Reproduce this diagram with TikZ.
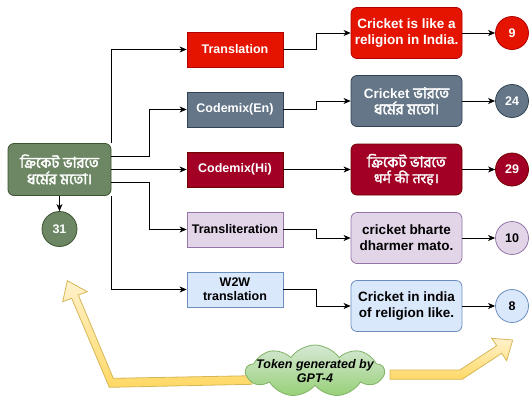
\documentclass[tikz,border=0pt]{standalone}
\usepackage{fontspec}
\setmainfont{Liberation Sans}
\newfontfamily\bnfont[Script=Bengali,AutoFakeBold=2.4]{Hind Siliguri}
\newfontfamily\hifont[Script=Devanagari,AutoFakeBold=1.8]{Noto Sans}
\usetikzlibrary{shapes.symbols,arrows.meta}
\definecolor{srcfill}{HTML}{6D8764}\definecolor{srcline}{HTML}{3A5431}
\definecolor{trfill}{HTML}{E51400}\definecolor{trline}{HTML}{B20000}
\definecolor{cefill}{HTML}{647687}\definecolor{celine}{HTML}{314354}
\definecolor{chfill}{HTML}{A20025}\definecolor{chline}{HTML}{6F0000}
\definecolor{tlfill}{HTML}{E1D5E7}\definecolor{tlline}{HTML}{9673A6}
\definecolor{wwfill}{HTML}{DAE8FC}\definecolor{wwline}{HTML}{6C8EBF}
\definecolor{yelA}{HTML}{FFF2CC}\definecolor{yelB}{HTML}{FFD966}\definecolor{yelline}{HTML}{D6B656}
\definecolor{grnA}{HTML}{D5E8D4}\definecolor{grnB}{HTML}{97D077}\definecolor{grnline}{HTML}{82B366}
\tikzset{
  base/.style={align=center,inner sep=1pt,line width=0.8pt,font=\bfseries\fontsize{12.5}{14}\selectfont},
  midbox/.style={base,rectangle,minimum width=96pt,minimum height=35pt},
  resbox/.style={base,rectangle,rounded corners=6pt,minimum width=111pt,minimum height=51pt,font=\bfseries\fontsize{13.5}{16}\selectfont},
  numc/.style={base,circle,minimum size=33pt},
  conn/.style={line width=0.8pt,draw=black,-{Stealth[length=7pt,width=6pt,inset=2pt]}},
  red/.style={fill=trfill,draw=trline,text=white},
  slate/.style={fill=cefill,draw=celine,text=white},
  wine/.style={fill=chfill,draw=chline,text=white},
  lilac/.style={fill=tlfill,draw=tlline,text=black},
  sky/.style={fill=wwfill,draw=wwline,text=black},
  moss/.style={fill=srcfill,draw=srcline,text=white},
  bigarrow/.style={draw=yelline,line width=0.8pt,top color=yelA,bottom color=yelB,line join=miter},
}
\begin{document}
\begin{tikzpicture}[x=1pt,y=-1pt]
\useasboundingbox (0,0) rectangle (529,397);
% source
\node[base,moss,rectangle,rounded corners=6pt,minimum width=103pt,minimum height=52pt,font=\bfseries\fontsize{15}{16.5}\selectfont] (src) at (59.5,169.5) {\bnfont ক্রিকেট ভারতে\\\bnfont ধর্মের মতো।};
\node[numc,moss,minimum size=35pt] (c31) at (59.5,229) {31};
% middle boxes
\node[midbox,red]   (tr)  at (235,49.5)  {Translation};
\node[midbox,slate] (cen) at (235,109.5) {Codemix(En)};
\node[midbox,wine]  (chi) at (235,169.5) {Codemix(Hi)};
\node[midbox,lilac] (tl)  at (235,229.5) {Transliteration};
\node[midbox,sky]   (ww)  at (235,289.5) {W2W\\translation};
% result boxes
\node[resbox,red]   (rtr)  at (406.5,33)  {Cricket is like a\\religion in India.};
\node[resbox,slate] (rcen) at (406.5,101) {Cricket {\bnfont\fontsize{15}{16.5}\selectfont ভারতে}\\\bnfont\fontsize{15}{16.5}\selectfont ধর্মের মতো।};
\node[resbox,wine]  (rchi) at (406.5,169.5) {\bnfont\fontsize{15}{16.5}\selectfont ক্রিকেট ভারতে\\\hifont\fontsize{14}{16}\selectfont धर्म की तरह।};
\node[resbox,lilac] (rtl)  at (406.5,238) {cricket bharte\\dharmer mato.};
\node[resbox,sky]   (rww)  at (406.5,306) {Cricket in india\\of religion like.};
% circles
\node[numc,red]   (ntr)  at (512,33)    {9};
\node[numc,slate] (ncen) at (512,101)   {24};
\node[numc,wine]  (nchi) at (512,169.5) {29};
\node[numc,lilac] (ntl)  at (512,238)   {10};
\node[numc,sky]   (nww)  at (512,306)   {8};
% connectors from source
\draw[conn] ([xshift=-0.5pt]src.north east) |- (tr.west);
\draw[conn] ([yshift=13pt]src.east) -- ++(38,0) |- (cen.west);
\draw[conn] (src.east) -- (chi.west);
\draw[conn] ([yshift=-13pt]src.east) -- ++(38,0) |- (tl.west);
\draw[conn] ([xshift=-0.5pt]src.south east) |- (ww.west);
\draw[conn] (src.south) -- (c31.north);
% middle to result
\draw[conn] (tr.east) -- ++(33,0) |- (rtr.west);
\draw[conn] (cen.east) -- ++(33,0) |- (rcen.west);
\draw[conn] (chi.east) -- (rchi.west);
\draw[conn] (tl.east) -- ++(33,0) |- (rtl.west);
\draw[conn] (ww.east) -- ++(33,0) |- (rww.west);
% result to circles
\draw[conn] (rtr.east) -- (ntr.west);
\draw[conn] (rcen.east) -- (ncen.west);
\draw[conn] (rchi.east) -- (nchi.west);
\draw[conn] (rtl.east) -- (ntl.west);
\draw[conn] (rww.east) -- (nww.west);
% yellow block arrows
\path[bigarrow] (252,375.7) -- (113.3,378.3) -- (78.3,295) -- (87.3,291.7) -- (67.3,280.7) -- (62.7,301.7) -- (71.7,298.3) -- (109.3,387.3) -- (252,384.3) -- cycle;
\path[bigarrow] (390,370) -- (459.8,370) -- (496.7,345.7) -- (491.7,338.3) -- (512.7,340) -- (506.7,360.7) -- (501.7,353.3) -- (462.2,379.3) -- (390,379.3) -- cycle;
% cloud
\node[cloud,cloud puffs=9,cloud puff arc=110,aspect=2.6,draw=grnline,line width=0.8pt,top color=grnA,bottom color=grnB,minimum width=138pt,minimum height=52pt,inner sep=0pt] (cld) at (315,371) {};
\node[align=center,font=\bfseries\itshape\fontsize{12.5}{14}\selectfont] (cldtxt) at (cld.center) {Token generated by\\GPT-4};
\end{tikzpicture}
\end{document}
